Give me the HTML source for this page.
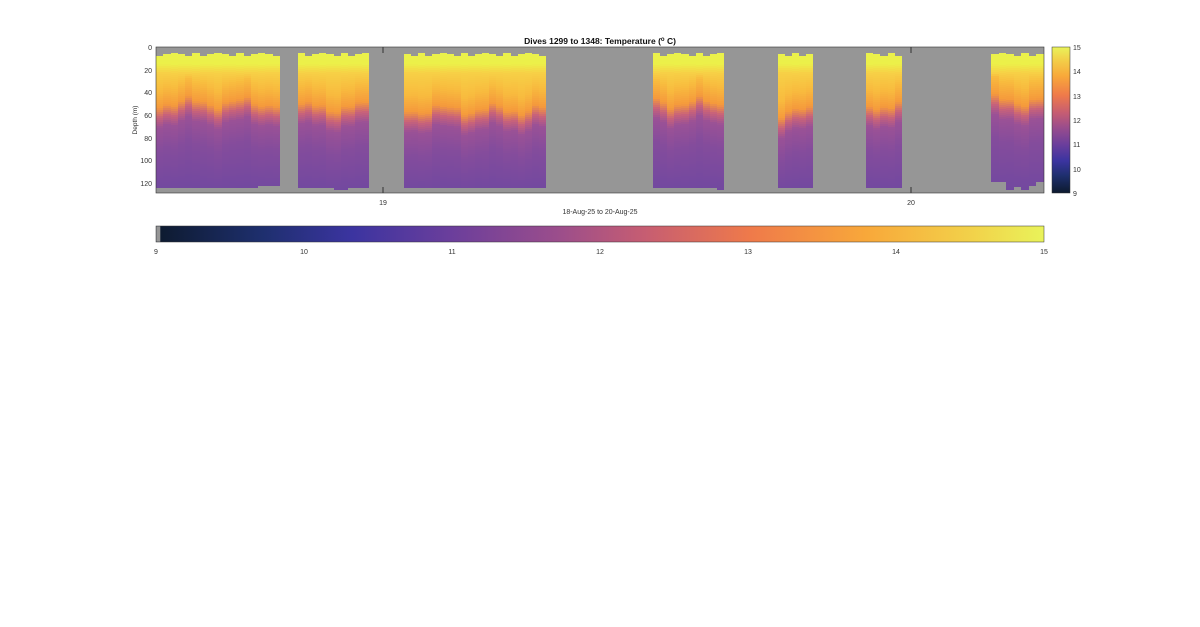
<!DOCTYPE html>
<html><head><meta charset="utf-8"><style>
body{margin:0;background:#fff;width:1200px;height:622px;overflow:hidden;font-family:"Liberation Sans",sans-serif}
</style></head><body>
<svg id="s" width="1200" height="622" xmlns="http://www.w3.org/2000/svg" font-family="Liberation Sans, sans-serif">
<defs>
<linearGradient id="hcb" x1="0" x2="1" y1="0" y2="0">
<stop offset="0" stop-color="#0d1a2e"/><stop offset="0.12" stop-color="#1e2f6e"/><stop offset="0.22" stop-color="#3b34a0"/><stop offset="0.33" stop-color="#6a3e9c"/><stop offset="0.45" stop-color="#9a4d8c"/><stop offset="0.55" stop-color="#c65d72"/><stop offset="0.67" stop-color="#ef7a4a"/><stop offset="0.8" stop-color="#f8a83a"/><stop offset="0.92" stop-color="#f2d24a"/><stop offset="1" stop-color="#e9f35a"/>
</linearGradient>
<linearGradient id="vcb" x1="0" x2="0" y1="1" y2="0">
<stop offset="0" stop-color="#0d1a2e"/><stop offset="0.12" stop-color="#1e2f6e"/><stop offset="0.22" stop-color="#3b34a0"/><stop offset="0.33" stop-color="#6a3e9c"/><stop offset="0.45" stop-color="#9a4d8c"/><stop offset="0.55" stop-color="#c65d72"/><stop offset="0.67" stop-color="#ef7a4a"/><stop offset="0.8" stop-color="#f8a83a"/><stop offset="0.92" stop-color="#f2d24a"/><stop offset="1" stop-color="#e9f35a"/>
</linearGradient>
</defs>
<rect x="156" y="47" width="888" height="146" fill="#969696"/>
<g id="cols" shape-rendering="crispEdges"></g>
<rect x="156" y="47" width="888" height="146" fill="none" stroke="#333" stroke-width="0.6"/>
<line x1="383" y1="47" x2="383" y2="53" stroke="#333"/><line x1="383" y1="187" x2="383" y2="193" stroke="#333"/>
<line x1="911" y1="47" x2="911" y2="53" stroke="#333"/><line x1="911" y1="187" x2="911" y2="193" stroke="#333"/>
<g font-size="7" fill="#333" text-anchor="end">
<text x="152" y="50">0</text><text x="152" y="73">20</text><text x="152" y="95">40</text><text x="152" y="118">60</text><text x="152" y="141">80</text><text x="152" y="163">100</text><text x="152" y="186">120</text>
</g>
<text x="137" y="120" font-size="6.5" fill="#333" transform="rotate(-90 137 120)" text-anchor="middle">Depth (m)</text>
<text x="383" y="205" font-size="7" fill="#333" text-anchor="middle">19</text>
<text x="911" y="205" font-size="7" fill="#333" text-anchor="middle">20</text>
<text x="600" y="214" font-size="7" fill="#333" text-anchor="middle">18-Aug-25 to 20-Aug-25</text>
<text x="600" y="44" font-size="8.5" font-weight="bold" fill="#111" text-anchor="middle">Dives 1299 to 1348: Temperature (<tspan dy="-3" font-size="6">o</tspan><tspan dy="3"> C)</tspan></text>
<rect x="1052" y="47" width="18" height="146" fill="url(#vcb)" stroke="#333" stroke-width="0.5"/>
<g font-size="7" fill="#333">
<text x="1073" y="50">15</text><text x="1073" y="74">14</text><text x="1073" y="99">13</text><text x="1073" y="123">12</text><text x="1073" y="147">11</text><text x="1073" y="172">10</text><text x="1073" y="196">9</text>
</g>
<rect x="156" y="226" width="888" height="16" fill="url(#hcb)" stroke="#333" stroke-width="0.5"/>
<rect x="156.3" y="226.3" width="4" height="15.4" fill="#969696"/>
<g font-size="7" fill="#333" text-anchor="middle">
<text x="156" y="254">9</text><text x="304" y="254">10</text><text x="452" y="254">11</text><text x="600" y="254">12</text><text x="748" y="254">13</text><text x="896" y="254">14</text><text x="1044" y="254">15</text>
</g>
</svg>
<script>
var segs=[[156,280,188,58],[298,369,188,62],[404,546,188,64],[653,724,188,58],[778,813,188,66],[866,902,188,60],[991,1044,182,56]];
var g=document.getElementById('cols'),NS="http://www.w3.org/2000/svg",k=0;
function hx(c){return [parseInt(c.substr(1,2),16),parseInt(c.substr(3,2),16),parseInt(c.substr(5,2),16)];}
function col(st,m){
  for(var i=1;i<st.length;i++){if(m<=st[i][0]){var a=st[i-1],b=st[i],t=(m-a[0])/Math.max(0.01,b[0]-a[0]);var A=hx(a[1]),B=hx(b[1]);return 'rgb('+[0,1,2].map(function(j){return Math.round(A[j]+(B[j]-A[j])*t)}).join(',')+')';}}
  return st[st.length-1][1];
}
var bots7=[188,182,190,187,190,186,182,182];
segs.forEach(function(s,si){
  var n=Math.round((s[1]-s[0])/7.1), cw=(s[1]-s[0])/n;
  for(var c=0;c<n;c++){
    k++;
    var x=Math.round(s[0]+c*cw), x2=Math.round(s[0]+(c+1)*cw);
    var top=(k%3==0)?53:(k%2?56:54);
    var th=s[3]+4*Math.sin(k*0.9)+2*Math.sin(k*2.3);
    var st=[[0,'#e9f24c'],[15,'#ecf049'],[23,'#f7d046'],[th-24,'#f8ba3e'],[th-9,'#f59a3c'],[th,'#c8627a'],[th+9,'#9a5196'],[th+30,'#844c9c'],[130,'#7048a0']];
    var bot=s[2];
    if(si==0&&c>=14)bot=186;
    if(si==1&&(c==5||c==6))bot=190;
    if(si==3&&c==9)bot=190;
    if(si==6)bot=bots7[c%8]>184?(c==0?182:bots7[c%8]):bots7[c%8];
    for(var y=top;y<bot;y+=2){
      var r=document.createElementNS(NS,'rect');
      r.setAttribute('x',x);r.setAttribute('y',y);r.setAttribute('width',x2-x);r.setAttribute('height',Math.min(2,bot-y));
      r.setAttribute('fill',col(st,(y+1-47)/1.13));
      g.appendChild(r);
    }
  }
});
</script>
</body></html>
